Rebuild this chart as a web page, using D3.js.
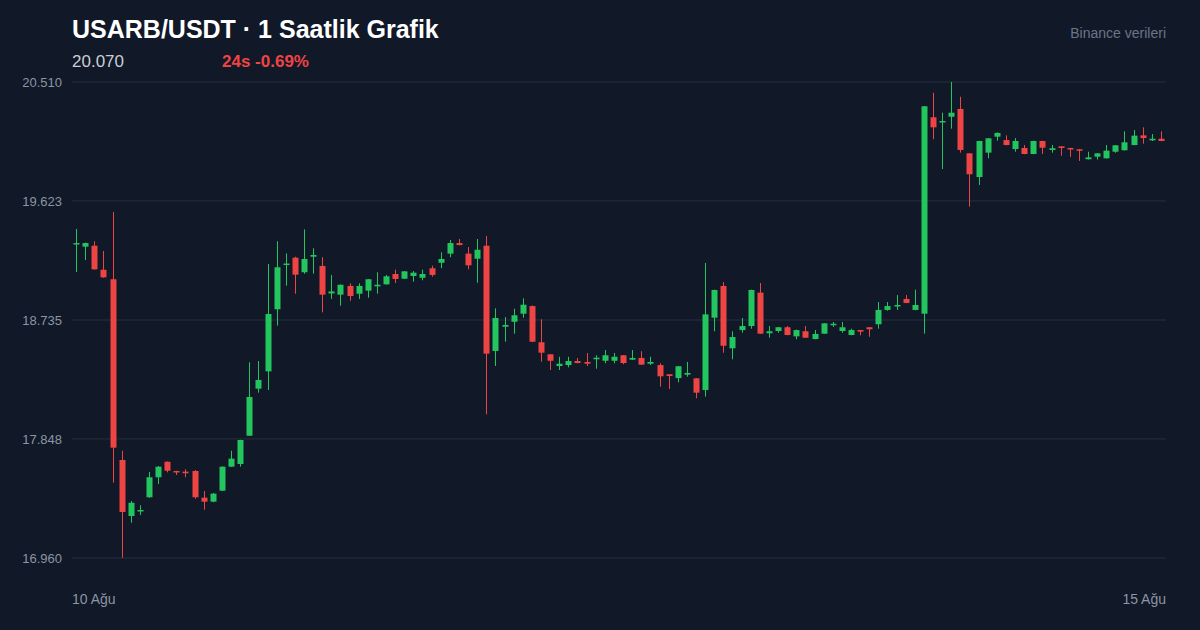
<!DOCTYPE html>
<html><head><meta charset="utf-8">
<script src="https://cdn.jsdelivr.net/npm/d3@7/dist/d3.min.js"></script>
<style>html,body{margin:0;padding:0;background:#111827;}svg{display:block;}</style>
</head><body>
<script>
const opens=[19.302,19.282,19.289,19.110,19.039,17.691,17.273,17.311,17.413,17.562,17.678,17.609,17.604,17.609,17.410,17.380,17.462,17.641,17.661,17.872,18.223,18.352,18.815,19.145,19.200,19.091,19.207,19.138,18.933,18.924,18.989,18.931,18.954,18.986,19.001,19.078,19.043,19.063,19.050,19.121,19.162,19.230,19.309,19.230,19.192,19.289,18.504,18.685,18.722,18.782,18.839,18.569,18.479,18.392,18.399,18.429,18.422,18.442,18.431,18.431,18.472,18.439,18.452,18.409,18.399,18.330,18.302,18.327,18.300,18.213,18.752,18.989,18.524,18.660,18.690,18.939,18.636,18.653,18.681,18.613,18.651,18.593,18.633,18.696,18.653,18.623,18.660,18.681,18.703,18.810,18.836,18.892,18.810,18.782,20.247,20.208,20.251,20.309,19.978,19.801,19.983,20.102,20.077,20.010,20.018,19.973,20.070,20.003,20.030,20.018,20.008,19.934,19.953,19.941,19.990,20.001,20.040,20.112,20.075,20.087];
const highs=[19.414,19.312,19.322,19.250,19.540,17.760,17.385,17.353,17.601,17.646,17.680,17.610,17.622,17.616,17.460,17.445,17.643,17.760,17.842,18.420,18.429,19.153,19.322,19.232,19.207,19.411,19.270,19.203,19.071,19.000,19.009,19.009,19.041,19.091,19.071,19.110,19.100,19.100,19.110,19.140,19.240,19.332,19.339,19.279,19.339,19.362,18.822,18.757,18.819,18.897,18.843,18.740,18.481,18.461,18.461,18.452,18.489,18.472,18.511,18.489,18.474,18.511,18.502,18.461,18.412,18.332,18.392,18.422,18.302,19.160,18.961,19.018,18.651,18.750,18.961,19.011,18.690,18.683,18.690,18.664,18.690,18.660,18.712,18.720,18.720,18.670,18.661,18.682,18.869,18.869,18.921,18.921,18.961,20.331,20.430,20.281,20.510,20.400,19.980,20.072,20.092,20.134,20.112,20.092,20.040,20.072,20.072,20.040,20.031,20.019,20.009,19.990,19.980,20.040,20.040,20.142,20.152,20.172,20.122,20.142];
const lows=[19.093,19.182,19.110,19.050,17.522,16.962,17.223,17.281,17.410,17.512,17.599,17.579,17.562,17.402,17.320,17.376,17.460,17.640,17.641,17.870,18.193,18.213,18.693,18.991,18.931,19.080,19.080,18.792,18.892,18.842,18.879,18.892,18.901,18.931,18.999,19.011,19.041,19.021,19.031,19.058,19.121,19.203,19.292,19.113,19.013,18.032,18.392,18.573,18.633,18.752,18.570,18.424,18.362,18.362,18.382,18.412,18.392,18.372,18.412,18.412,18.405,18.437,18.400,18.400,18.238,18.220,18.270,18.312,18.151,18.163,18.651,18.491,18.442,18.640,18.670,18.631,18.603,18.640,18.621,18.591,18.601,18.591,18.631,18.683,18.640,18.621,18.621,18.610,18.670,18.804,18.810,18.860,18.808,18.633,20.083,19.861,20.162,19.983,19.580,19.742,19.941,20.072,20.038,19.990,19.971,19.971,19.973,19.983,19.960,19.951,19.921,19.932,19.932,19.939,19.983,19.999,20.038,20.050,20.070,20.068];
const closes=[19.309,19.309,19.113,19.053,17.783,17.303,17.372,17.318,17.562,17.641,17.611,17.598,17.592,17.413,17.380,17.440,17.641,17.701,17.840,18.161,18.288,18.780,19.128,19.156,19.073,19.190,19.220,18.924,18.948,18.998,18.914,18.989,19.039,18.998,19.061,19.041,19.098,19.088,19.078,19.071,19.190,19.309,19.294,19.143,19.259,18.484,18.750,18.698,18.770,18.849,18.573,18.491,18.431,18.409,18.429,18.414,18.409,18.454,18.472,18.461,18.414,18.452,18.402,18.422,18.315,18.317,18.390,18.340,18.193,18.777,18.959,18.543,18.608,18.690,18.959,18.633,18.651,18.681,18.623,18.660,18.603,18.631,18.710,18.707,18.681,18.660,18.648,18.666,18.810,18.839,18.847,18.862,18.847,20.329,20.172,20.219,20.281,20.003,19.822,20.070,20.090,20.130,20.040,20.070,19.973,20.070,20.020,20.016,20.018,20.008,19.998,19.948,19.978,19.998,20.038,20.060,20.110,20.092,20.087,20.070];
const yTicks=[20.510,19.623,18.735,17.848,16.960];
const xLabels=["10 Ağu","15 Ağu"];
const titleText="USARB/USDT · 1 Saatlik Grafik";
const lastPrice="20.070";
const changeText="24s -0.69%";
const sourceText="Binance verileri";

const W=1200,H=630;
const m={l:72,r:34,t:82,b:72};
const svg=d3.select("body").append("svg").attr("width",W).attr("height",H);
svg.append("rect").attr("width",W).attr("height",H).attr("fill","#111827");
const font="'Liberation Sans', Arial, Helvetica, sans-serif";

const idx=d3.range(opens.length);
const x=d3.scaleBand().domain(idx).range([m.l,W-m.r]).padding(0);
const y=d3.scaleLinear().domain([16.960,20.510]).range([H-m.b,m.t]);
const cx=i=>Math.floor(x(i)+x.bandwidth()/2);

// grid
const g=svg.append("g");
g.selectAll("line.grid").data(yTicks).join("line")
 .attr("x1",m.l).attr("x2",W-m.r).attr("y1",d=>y(d)).attr("y2",d=>y(d))
 .attr("stroke","#243040").attr("stroke-width",1);
// y axis labels
const yAxis=d3.axisLeft(y).tickValues(yTicks).tickFormat(d3.format(".3f")).tickSize(0).tickPadding(10);
const ya=svg.append("g").attr("transform",`translate(${m.l},0)`).call(yAxis);
ya.select(".domain").remove();
ya.selectAll("text").attr("fill","#8b95a5").attr("font-size",13).attr("font-family",font);

// candles
const up="#22c55e",dn="#ef4444";
const cg=svg.append("g");
cg.selectAll("line.wick").data(idx).join("line")
 .attr("x1",i=>cx(i)+0.5).attr("x2",i=>cx(i)+0.5)
 .attr("y1",i=>y(highs[i])).attr("y2",i=>y(lows[i]))
 .attr("stroke",i=>closes[i]>=opens[i]?up:dn).attr("stroke-width",1);
cg.selectAll("rect.body").data(idx).join("rect")
 .attr("x",i=>cx(i)-2.5)
 .attr("width",6)
 .attr("y",i=>y(Math.max(opens[i],closes[i])))
 .attr("height",i=>Math.max(1.5,Math.abs(y(opens[i])-y(closes[i]))))
 .attr("fill",i=>closes[i]>=opens[i]?up:dn);

// x labels
svg.append("text").attr("x",m.l).attr("y",604).text(xLabels[0])
 .attr("fill","#8b95a5").attr("font-size",14).attr("font-family",font);
svg.append("text").attr("x",W-m.r).attr("y",604).attr("text-anchor","end").text(xLabels[1])
 .attr("fill","#8b95a5").attr("font-size",14).attr("font-family",font);

// header
svg.append("text").attr("x",72).attr("y",38).text(titleText)
 .attr("fill","#ffffff").attr("font-size",25).attr("font-weight","bold").attr("font-family",font);
svg.append("text").attr("x",72).attr("y",67).text(lastPrice)
 .attr("fill","#c9ced6").attr("font-size",17).attr("font-family",font);
svg.append("text").attr("x",222).attr("y",67).text(changeText)
 .attr("fill","#ef4444").attr("font-size",17).attr("font-weight","bold").attr("font-family",font);
svg.append("text").attr("x",W-m.r).attr("y",38).attr("text-anchor","end").text(sourceText)
 .attr("fill","#6b7588").attr("font-size",14).attr("font-family",font);
</script>
</body></html>
